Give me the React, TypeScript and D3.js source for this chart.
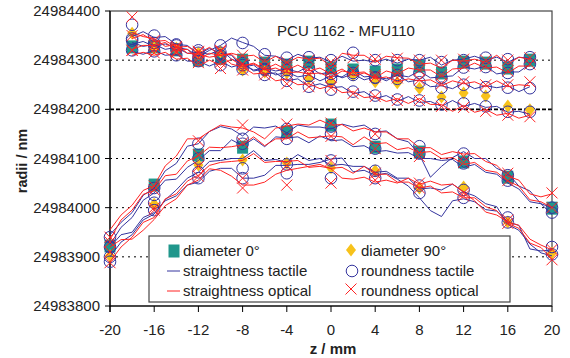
import React from "react";
import * as d3 from "d3";

// radii are stored as nm above BASE
const BASE = 24984000;
const yTickValues = [24983800, 24983900, 24984000, 24984100, 24984200, 24984300, 24984400];
const xTickValues = [-20, -16, -12, -8, -4, 0, 4, 8, 12, 16, 20];
const gridValues = [24983900, 24984000, 24984100, 24984200, 24984300];

const zTop = [-18, -17, -16, -15, -14, -13, -12, -11, -10, -9, -8, -7, -6, -5, -4, -3, -2, -1, 0, 1, 2, 3, 4, 5, 6, 7, 8, 9, 10, 11, 12, 13, 14, 15, 16, 17, 18];
const zBot = [-20, -19, -18, -17, -16, -15, -14, -13, -12, -11, -10, -9, -8, -7, -6, -5, -4, -3, -2, -1, 0, 1, 2, 3, 4, 5, 6, 7, 8, 9, 10, 11, 12, 13, 14, 15, 16, 17, 18, 19, 20];
const zTopMarks = [-18, -16, -14, -12, -10, -8, -6, -4, -2, 0, 2, 4, 6, 8, 10, 12, 14, 16, 18];
const zBotMarks = [-20, -16, -12, -8, -4, 0, 4, 8, 12, 16, 20];

// upper cylinder section – straightness profiles
const topTactile0 = [332, 338, 328, 333, 326, 322, 308, 320, 330, 345, 336, 328, 310, 308, 300, 312, 304, 306, 296, 308, 298, 300, 296, 302, 294, 302, 300, 306, 290, 300, 302, 308, 300, 306, 296, 306, 304];
const topTactile180 = [318, 312, 320, 310, 312, 298, 298, 288, 298, 286, 292, 280, 284, 278, 282, 276, 288, 272, 276, 264, 272, 260, 266, 262, 270, 266, 278, 264, 266, 268, 286, 282, 288, 272, 276, 276, 292];
const topTactile90 = [348, 358, 346, 348, 332, 330, 312, 324, 314, 310, 286, 290, 272, 274, 258, 262, 246, 252, 244, 246, 232, 236, 222, 228, 216, 226, 214, 216, 206, 218, 206, 212, 204, 206, 194, 196, 190];
const topTactile270 = [336, 328, 332, 322, 326, 314, 316, 312, 322, 302, 294, 278, 282, 270, 276, 266, 270, 258, 268, 266, 280, 266, 268, 258, 270, 256, 260, 246, 248, 242, 254, 242, 248, 244, 248, 236, 246];
const topOptical0 = [322, 330, 330, 336, 320, 322, 302, 314, 310, 314, 308, 310, 296, 308, 294, 306, 302, 304, 288, 314, 310, 310, 296, 308, 305, 304, 292, 294, 284, 300, 298, 302, 296, 310, 292, 306, 302];
const topOptical180 = [310, 316, 310, 316, 302, 304, 288, 300, 290, 302, 288, 294, 282, 292, 280, 290, 278, 284, 272, 282, 268, 274, 264, 278, 272, 284, 280, 280, 266, 282, 284, 294, 284, 286, 274, 288, 288];
const topOptical90 = [356, 348, 344, 328, 332, 314, 312, 306, 310, 292, 286, 272, 274, 258, 262, 250, 252, 242, 248, 234, 236, 224, 226, 216, 222, 212, 222, 210, 210, 196, 208, 194, 200, 188, 192, 182, 188];
const topOptical270 = [344, 352, 338, 340, 326, 328, 314, 326, 310, 312, 290, 292, 280, 284, 274, 276, 272, 274, 264, 278, 274, 276, 262, 266, 256, 262, 258, 260, 248, 258, 252, 256, 246, 258, 246, 250, 248];

// lower cylinder section – straightness profiles
const botTactile0 = [-55, -30, -10, 25, 40, 75, 90, 125, 130, 155, 165, 160, 146, 164, 162, 166, 152, 168, 164, 164, 160, 170, 164, 168, 154, 156, 140, 134, 108, 62, 84, 102, 114, 100, 100, 80, 70, 44, 34, 8, 0];
const botTactile180 = [-75, -40, -20, 15, 30, 56, 58, 82, 96, 116, 116, 138, 126, 140, 124, 144, 142, 144, 132, 146, 136, 138, 124, 126, 114, 116, 111, 112, 100, 100, 96, 98, 82, 88, 72, 68, 50, 38, 12, 8, -14];
const botTactile90 = [-80, -55, -50, -20, -10, 14, 24, 46, 52, 74, 80, 80, 60, 60, 66, 86, 86, 88, 88, 92, 99, 101, 73, 76, 66, 70, 58, 44, 20, -6, -18, 14, 18, 12, -4, -7, -29, -36, -84, -88, -86];
const botTactile270 = [-100, -70, -55, -25, -13, 16, 36, 60, 72, 94, 96, 100, 100, 116, 96, 98, 92, 108, 96, 100, 86, 88, 84, 84, 72, 74, 60, 60, 38, 40, 36, 48, 32, 24, 8, 2, -34, -46, -74, -92, -98];
const botOptical0 = [-45, -15, 5, 35, 45, 85, 105, 140, 140, 155, 168, 164, 162, 154, 140, 162, 166, 170, 168, 178, 168, 169, 156, 162, 154, 154, 140, 140, 122, 122, 108, 114, 109, 110, 94, 86, 64, 56, 28, 22, 28];
const botOptical180 = [-65, -25, -5, 27, 35, 65, 68, 95, 105, 123, 122, 124, 128, 144, 126, 140, 140, 154, 142, 144, 146, 144, 128, 144, 130, 132, 118, 122, 112, 114, 100, 102, 88, 92, 76, 72, 54, 44, 16, 12, 0];
const botOptical90 = [-80, -65, -64, -46, -24, 4, 18, 46, 56, 79, 76, 64, 46, 46, 52, 68, 76, 80, 84, 88, 79, 60, 58, 62, 52, 56, 50, 60, 48, 54, 46, 48, 32, 14, -9, -15, -29, -36, -64, -76, -86];
const botOptical270 = [-110, -80, -60, -30, -20, 18, 28, 54, 66, 86, 92, 94, 96, 110, 92, 94, 94, 96, 82, 84, 80, 82, 70, 84, 68, 68, 52, 52, 40, 44, 30, 32, 20, 20, 2, -6, -32, -42, -72, -81, -104];

// diameters
const topDiameter0 = [327, 327, 321, 300, 304, 300, 294, 290, 296, 284, 280, 276, 280, 288, 274, 296, 294, 284, 300];
const topDiameter90 = [355, 325, 325, 314, 317, 280, 276, 274, 263, 256, 270, 256, 254, 243, 225, 233, 227, 207, 199];
const botDiameter0 = [-78, 46, 107, 123, 154, 168, 123, 113, 93, 62, -1];
const botDiameter90 = [-98, 7, 87, 97, 91, 81, 75, 40, 42, -29, -92];

// roundness
const topRoundTactile0 = [340, 330, 332, 315, 330, 335, 312, 305, 306, 300, 315, 300, 300, 300, 296, 300, 305, 302, 306];
const topRoundTactile180 = [320, 318, 310, 298, 290, 290, 282, 280, 284, 272, 270, 265, 270, 274, 264, 285, 286, 274, 292];
const topRoundTactile90 = [372, 350, 330, 320, 315, 294, 280, 272, 268, 262, 274, 264, 262, 255, 244, 250, 245, 244, 243];
const topRoundTactile270 = [344, 335, 322, 305, 310, 282, 270, 258, 246, 240, 236, 228, 220, 218, 210, 212, 206, 195, 195];
const topRoundOptical0 = [388, 330, 325, 316, 320, 310, 300, 296, 300, 296, 305, 302, 304, 300, 300, 302, 300, 300, 305];
const topRoundOptical180 = [320, 315, 315, 295, 296, 292, 285, 285, 282, 280, 278, 270, 275, 280, 270, 288, 288, 278, 292];
const topRoundOptical90 = [350, 340, 328, 318, 318, 292, 284, 278, 272, 266, 278, 266, 264, 260, 252, 256, 250, 250, 256];
const topRoundOptical270 = [320, 322, 318, 305, 283, 280, 270, 252, 246, 244, 232, 226, 218, 218, 206, 204, 196, 188, 185];
const botRoundTactile0 = [-60, 40, 130, 140, 160, 165, 150, 125, 110, 66, 0];
const botRoundTactile180 = [-80, 26, 100, 130, 140, 150, 120, 110, 90, 55, -10];
const botRoundTactile90 = [-100, 10, 72, 80, 88, 96, 75, 45, 36, -20, -80];
const botRoundTactile270 = [-110, -5, 60, 60, 70, 60, 60, 30, 20, -30, -95];
const botRoundOptical0 = [-60, 44, 136, 168, 170, 172, 150, 112, 104, 70, 30];
const botRoundOptical180 = [-70, 36, 108, 132, 145, 145, 120, 104, 92, 55, 0];
const botRoundOptical90 = [-90, 0, 84, 60, 86, 96, 70, 50, 30, -25, -85];
const botRoundOptical270 = [-112, -5, 64, 40, 46, 50, 56, 40, 24, -32, -106];

const legendRows = [
  ["diameter 0°", "diameter 90°"],
  ["straightness tactile", "roundness tactile"],
  ["straightness optical", "roundness optical"],
];

const W = 570, H = 358;
const PL = 110, PR = 552, PT = 11, PB = 306;
const FONT = "'Liberation Sans', Arial, Helvetica, sans-serif";
const TEAL = "#20978c";
const GOLD = "#f7c21b";
const BLUE = "#34349e";
const RED = "#ff2222";

const x = d3.scaleLinear().domain([-20, 20]).range([PL, PR]);
const y = d3.scaleLinear().domain([BASE - 200, BASE + 400]).range([PB, PT]);

type Pt = [number, number];
const pts = (zs: number[], vs: number[]): Pt[] => zs.map((z, i) => [z, vs[i]]);
const line = d3.line<Pt>().x((d) => x(d[0])).y((d) => y(BASE + d[1]));

const tactileLines = [
  pts(zTop, topTactile0), pts(zTop, topTactile180), pts(zTop, topTactile90), pts(zTop, topTactile270),
  pts(zBot, botTactile0), pts(zBot, botTactile180), pts(zBot, botTactile90), pts(zBot, botTactile270),
];
const opticalLines = [
  pts(zTop, topOptical0), pts(zTop, topOptical180), pts(zTop, topOptical90), pts(zTop, topOptical270),
  pts(zBot, botOptical0), pts(zBot, botOptical180), pts(zBot, botOptical90), pts(zBot, botOptical270),
];
const squares = [...pts(zTopMarks, topDiameter0), ...pts(zBotMarks, botDiameter0)];
const diamonds = [...pts(zTopMarks, topDiameter90), ...pts(zBotMarks, botDiameter90)];
const circles = [
  topRoundTactile0, topRoundTactile180, topRoundTactile90, topRoundTactile270,
].flatMap((a) => pts(zTopMarks, a)).concat(
  [botRoundTactile0, botRoundTactile180, botRoundTactile90, botRoundTactile270].flatMap((a) => pts(zBotMarks, a))
);
const crosses = [
  topRoundOptical0, topRoundOptical180, topRoundOptical90, topRoundOptical270,
].flatMap((a) => pts(zTopMarks, a)).concat(
  [botRoundOptical0, botRoundOptical180, botRoundOptical90, botRoundOptical270].flatMap((a) => pts(zBotMarks, a))
);

const Square = ({ cx, cy }: { cx: number; cy: number }) => (
  <rect x={cx - 5.5} y={cy - 6.5} width={11} height={13} fill={TEAL} />
);
const Diamond = ({ cx, cy }: { cx: number; cy: number }) => (
  <path d={`M${cx},${cy - 6.5}L${cx + 5},${cy}L${cx},${cy + 6.5}L${cx - 5},${cy}Z`} fill={GOLD} />
);
const Circle = ({ cx, cy }: { cx: number; cy: number }) => (
  <ellipse cx={cx} cy={cy} rx={5.8} ry={5.8} fill="none" stroke={BLUE} strokeWidth={1} />
);
const Cross = ({ cx, cy }: { cx: number; cy: number }) => (
  <path d={`M${cx - 5.5},${cy - 5.5}L${cx + 5.5},${cy + 5.5}M${cx - 5.5},${cy + 5.5}L${cx + 5.5},${cy - 5.5}`} stroke={RED} strokeWidth={1} fill="none" />
);

export default function App() {
  const legX = 149, legY = 236, legW = 361, legH = 66;
  const rowY = [251, 271, 291];
  const col1 = 174, col2 = 351;
  return (
    <svg width={W} height={H} style={{ position: "absolute", left: 0, top: 0, background: "#fff" }} fontFamily={FONT}>
      <rect x={0} y={0} width={W} height={H} fill="#fff" />
      {/* gridlines */}
      {gridValues.map((v) => (
        <line key={v} x1={PL} x2={PR} y1={y(v)} y2={y(v)} stroke="#000"
          strokeWidth={v === 24984200 ? 1.8 : 1} strokeDasharray={v === 24984200 ? "4,2" : "2,4"} />
      ))}
      {/* frame */}
      <rect x={PL} y={PT} width={PR - PL} height={PB - PT} fill="none" stroke="#444" strokeWidth={1.2} />
      {/* axes ticks */}
      {yTickValues.map((v) => (
        <g key={v}>
          <line x1={PL - 5} x2={PL} y1={y(v)} y2={y(v)} stroke="#000" />
          <text x={PL - 10} y={y(v) + 5} textAnchor="end" fontSize={15} fill="#222">{v}</text>
        </g>
      ))}
      {xTickValues.map((v) => (
        <g key={v}>
          <line x1={x(v)} x2={x(v)} y1={PB} y2={PB + 6} stroke="#000" />
          <text x={x(v)} y={PB + 29} textAnchor="middle" fontSize={15} fill="#222">{v}</text>
        </g>
      ))}
      <line x1={PL} x2={PL} y1={PT} y2={PB + 6} stroke="#000" strokeWidth={1.2} />
      <line x1={PL} x2={PR} y1={PB} y2={PB} stroke="#000" strokeWidth={1.2} />
      <text x={333} y={354} textAnchor="middle" fontSize={15} fontWeight="bold" fill="#222">z / mm</text>
      <text transform={`translate(27,${161}) rotate(-90)`} textAnchor="middle" fontSize={14.5} fontWeight="bold" fill="#222">radii / nm</text>
      <text x={346} y={36} textAnchor="middle" fontSize={15} fill="#222">PCU 1162 - MFU110</text>

      {/* series */}
      {squares.map((d, i) => <Square key={"s" + i} cx={x(d[0])} cy={y(BASE + d[1])} />)}
      {diamonds.map((d, i) => <Diamond key={"d" + i} cx={x(d[0])} cy={y(BASE + d[1])} />)}
      {tactileLines.map((l, i) => <path key={"t" + i} d={line(l) || ""} fill="none" stroke={BLUE} strokeWidth={1} />)}
      {circles.map((d, i) => <Circle key={"c" + i} cx={x(d[0])} cy={y(BASE + d[1])} />)}
      {opticalLines.map((l, i) => <path key={"o" + i} d={line(l) || ""} fill="none" stroke={RED} strokeWidth={1} />)}
      {crosses.map((d, i) => <Cross key={"x" + i} cx={x(d[0])} cy={y(BASE + d[1])} />)}

      {/* legend */}
      <rect x={legX} y={legY} width={legW} height={legH} fill="#fff" stroke="#444" strokeWidth={1.2} />
      <Square cx={col1} cy={rowY[0]} />
      <line x1={col1 - 7} x2={col1 + 6} y1={rowY[1]} y2={rowY[1]} stroke={BLUE} />
      <line x1={col1 - 7} x2={col1 + 6} y1={rowY[2]} y2={rowY[2]} stroke={RED} />
      <Diamond cx={col2} cy={rowY[0] - 1} />
      <Circle cx={col2 + 1} cy={rowY[1]} />
      <Cross cx={col2} cy={rowY[2] - 2} />
      {legendRows.map((r, i) => (
        <g key={i}>
          <text x={183} y={rowY[i] + 5} fontSize={15} fill="#222">{r[0]}</text>
          <text x={361} y={rowY[i] + 5} fontSize={15} fill="#222">{r[1]}</text>
        </g>
      ))}
    </svg>
  );
}
